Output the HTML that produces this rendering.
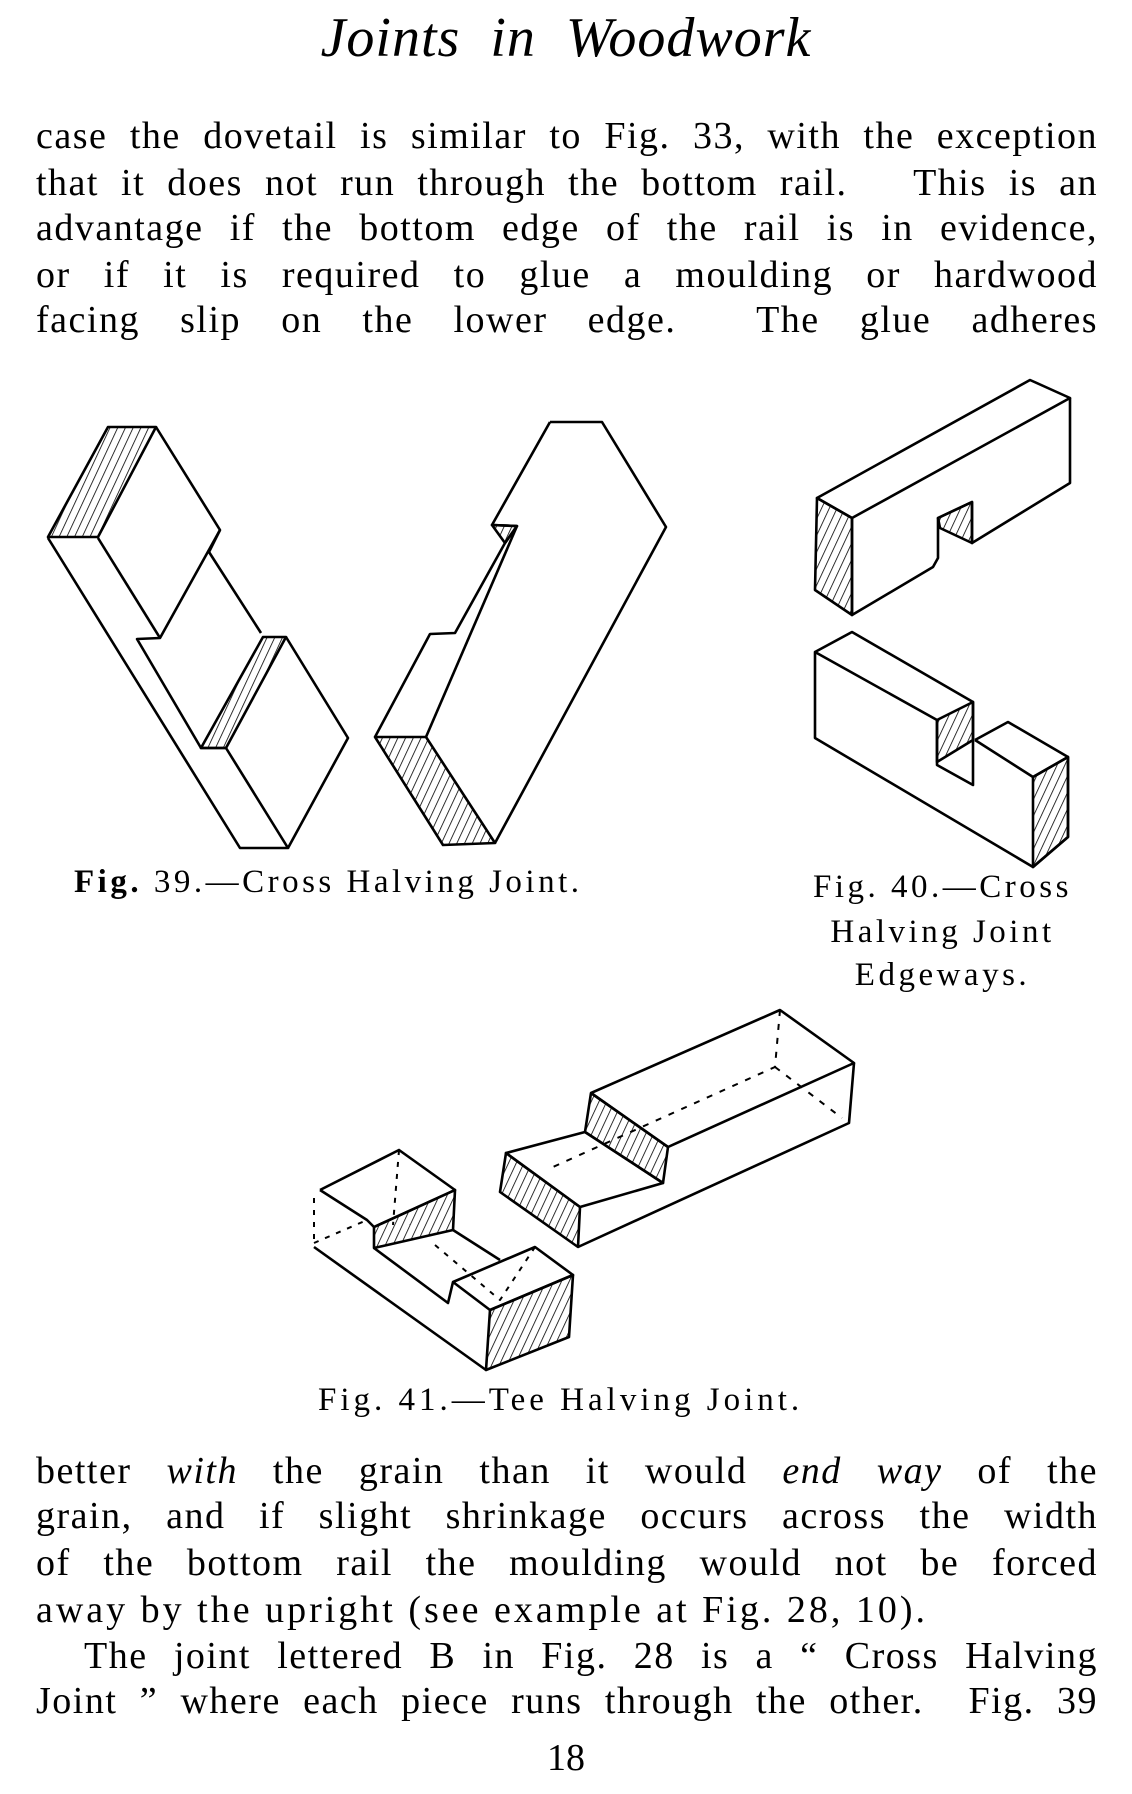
<!DOCTYPE html>
<html><head><meta charset="utf-8">
<style>
html,body{margin:0;padding:0;background:#fff;}
body{width:1132px;height:1794px;position:relative;overflow:hidden;font-family:"Liberation Serif",serif;color:#000;}
.l{position:absolute;left:36px;width:1062px;font-size:38px;line-height:38px;letter-spacing:1.5px;text-align:justify;text-align-last:justify;white-space:normal;}
.c{position:absolute;font-size:33px;line-height:33px;letter-spacing:3.5px;white-space:nowrap;}
svg{position:absolute;left:0;top:0;}
</style></head><body>
<div style="position:absolute;left:0;width:1132px;top:10px;text-align:center;font-size:56px;line-height:56px;font-style:italic;letter-spacing:1px;">Joints&nbsp; in&nbsp; Woodwork</div>

<div class="l" style="top:117px">case the dovetail is similar to Fig. 33, with the exception</div>
<div class="l" style="top:164px">that it does not run through the bottom rail.&nbsp;&nbsp; This is an</div>
<div class="l" style="top:209px">advantage if the bottom edge of the rail is in evidence,</div>
<div class="l" style="top:256px">or if it is required to glue a moulding or hardwood</div>
<div class="l" style="top:301px">facing slip on the lower edge.&nbsp; The glue adheres</div>

<svg width="1132" height="1794" viewBox="0 0 1132 1794">
<defs>
<pattern id="h" width="7" height="7" patternUnits="userSpaceOnUse" patternTransform="rotate(25)">
<line x1="0" y1="0" x2="0" y2="7" stroke="#000" stroke-width="1.6"/>
</pattern>
</defs>
<g fill="none" stroke="#000" stroke-width="2.6" stroke-linejoin="round">
<polygon points="108,427 156,427 98,537 48,537" fill="url(#h)"/>
<polyline points="156,427 220,530 209,552 261,633"/>
<polyline points="220,530 160,638 137,639 201,748 226,748 288,848 240,848 48,538"/>
<polyline points="98,538 160,638"/>
<polygon points="263,637 286,637 226,748 201,748" fill="url(#h)"/>
<polyline points="286,637 348,738 288,848"/>
<polyline points="550,422 602,422 666,527 495,843"/>
<polyline points="550,422 492,525 517,526 505,543 455,633 430,634 375,737"/>
<polyline points="517,526 426,737"/>
<polygon points="375,737 426,737 495,843 443,845" fill="url(#h)"/>
<polygon points="492,525 517,526 505,543" fill="url(#h)"/>
<polygon points="817,498 1030,380 1070,398 852,518"/>
<polyline points="1070,398 1070,483 972,543 972,502 938,518 938,558 933,567 852,615 852,518"/>
<polygon points="817,498 852,518 852,615 815,590" fill="url(#h)"/>
<polygon points="938,518 972,502 972,543 940,528" fill="url(#h)"/>
<polyline points="815,652 852,632 973,702 973,785 937,765 937,720 815,652 815,738 1033,867 1068,837 1068,757 1008,722 975,740"/>
<polygon points="937,720 973,702 973,740 937,762" fill="url(#h)"/>
<polyline points="975,740 1033,777 1068,757"/>
<polygon points="1033,777 1068,757 1068,837 1033,867" fill="url(#h)"/>
<polyline points="591,1093 780,1010 854,1063 668,1147 591,1093"/>
<polygon points="591,1093 668,1147 663,1183 585,1132" fill="url(#h)"/>
<polygon points="506,1153 585,1132 663,1183 580,1207" fill="none"/>
<polygon points="506,1153 580,1207 578,1247 500,1192" fill="url(#h)"/>
<polyline points="578,1247 849,1123 854,1063"/>
<polyline points="780,1010 775,1067 553,1167" stroke-dasharray="6,8" stroke-width="2"/>
<polyline points="775,1067 842,1118" stroke-dasharray="6,8" stroke-width="2"/>
<polyline points="320,1190 399,1150 455,1190 374,1227 367,1220 320,1190"/>
<polygon points="374,1227 455,1190 453,1230 374,1248" fill="url(#h)"/>
<polyline points="453,1230 500,1260"/>
<polyline points="374,1248 448,1303 453,1282 535,1247 573,1275 490,1310 453,1282"/>
<polygon points="490,1310 573,1275 569,1337 486,1370" fill="url(#h)"/>
<polyline points="314,1247 486,1370"/>
<polyline points="314,1198 314,1240" stroke-dasharray="5,7" stroke-width="2"/>
<polyline points="399,1150 393,1225" stroke-dasharray="5,7" stroke-width="2"/>
<polyline points="314,1243 367,1220" stroke-dasharray="5,7" stroke-width="2"/>
<polyline points="435,1245 500,1300 535,1247" stroke-dasharray="5,7" stroke-width="2"/>
</g>
</svg>

<div class="c" style="left:74px;top:866px"><b>Fig.</b> 39.—Cross Halving Joint.</div>
<div class="c" style="left:780px;width:325px;text-align:center;top:871px">Fig. 40.—Cross</div>
<div class="c" style="left:780px;width:325px;text-align:center;top:916px">Halving Joint</div>
<div class="c" style="left:780px;width:325px;text-align:center;top:959px">Edgeways.</div>
<div class="c" style="left:318px;top:1384px;letter-spacing:4px">Fig. 41.—Tee Halving Joint.</div>

<div class="l" style="top:1452px">better <i>with</i> the grain than it would <i>end way</i> of the</div>
<div class="l" style="top:1497px">grain, and if slight shrinkage occurs across the width</div>
<div class="l" style="top:1544px">of the bottom rail the moulding would not be forced</div>
<div class="l" style="top:1591px;text-align:left;text-align-last:left;letter-spacing:3px">away by the upright (see example at Fig. 28, 10).</div>
<div class="l" style="top:1637px;left:84px;width:1014px">The joint lettered B in Fig. 28 is a “ Cross Halving</div>
<div class="l" style="top:1682px">Joint ” where each piece runs through the other.&nbsp; Fig. 39</div>
<div style="position:absolute;left:0;width:1132px;text-align:center;top:1739px;font-size:38px;line-height:38px;">18</div>
</body></html>
